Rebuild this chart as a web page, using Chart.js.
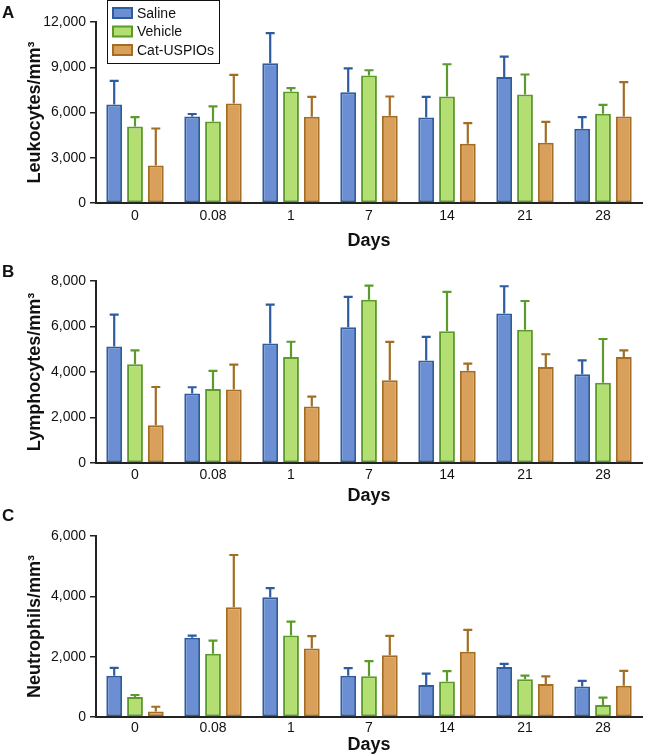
<!DOCTYPE html>
<html>
<head>
<meta charset="utf-8">
<script src="https://cdn.jsdelivr.net/npm/chart.js@4.4.1/dist/chart.umd.min.js"></script>
<style>
html, body { margin:0; padding:0; background:#fff; }
#wrap { position:relative; width:647px; height:756px; }
.panel { position:absolute; left:0; width:647px; }
.letter { position:absolute; left:2px; font:bold 17px "Liberation Sans", Arial, sans-serif; color:#111; line-height:1; }
</style>
</head>
<body>
<div id="wrap">
  <div class="panel" style="top:0;height:252px"><canvas id="chartA" width="647" height="252"></canvas></div>
  <div class="panel" style="top:252px;height:256px"><canvas id="chartB" width="647" height="256"></canvas></div>
  <div class="panel" style="top:508px;height:248px"><canvas id="chartC" width="647" height="248"></canvas></div>
  <div class="letter" style="top:4px">A</div>
  <div class="letter" style="top:263px">B</div>
  <div class="letter" style="top:507px">C</div>
</div>
<script>
// ── Data (mean and SD per day) ──
const days = ['0', '0.08', '1', '7', '14', '21', '28'];
const seriesNames = ['Saline', 'Vehicle', 'Cat-USPIOs'];

const leukoSaline    = [6530, 5740, 9270, 7350, 5670, 8360, 4920];
const leukoSalineSD  = [1570,  160, 1990, 1580, 1370, 1350,  770];
const leukoVehicle   = [5070, 5400, 7390, 8450, 7060, 7190, 5910];
const leukoVehicleSD = [ 620, 1000,  220,  350, 2140, 1330,  600];
const leukoCat       = [2490, 6600, 5710, 5780, 3930, 3990, 5740];
const leukoCatSD     = [2450, 1890, 1330, 1280, 1370, 1390, 2270];
const leukoTicks     = [0, 3000, 6000, 9000, 12000];

const lymphoSaline    = [5120, 3050, 5250, 5970, 4510, 6570, 3900];
const lymphoSalineSD  = [1400,  280, 1710, 1330, 1030, 1200,  610];
const lymphoVehicle   = [4340, 3250, 4660, 7180, 5790, 5860, 3530];
const lymphoVehicleSD = [ 610,  800,  670,  620, 1730, 1260, 1920];
const lymphoCat       = [1660, 3230, 2480, 3640, 4050, 4220, 4660];
const lymphoCatSD     = [1680, 1090,  440, 1680,  320,  560,  290];
const lymphoTicks     = [0, 2000, 4000, 6000, 8000];

const neutroSaline    = [1370, 2630, 3970, 1370, 1060, 1660, 1010];
const neutroSalineSD  = [ 260,   70,  300,  250,  380,  100,  190];
const neutroVehicle   = [ 660, 2100, 2700, 1350, 1180, 1250,  400];
const neutroVehicleSD = [  70,  430,  460,  500,  340,  120,  240];
const neutroCat       = [ 180, 3640, 2270, 2050, 2160, 1090, 1040];
const neutroCatSD     = [ 160, 1730,  410,  640,  730,  260,  490];
const neutroTicks     = [0, 2000, 4000, 6000];

const FONT = '"Liberation Sans", Arial, sans-serif';
const fills   = ['#6b8fd2', '#b3de72', '#d9a05c'];
const borders = ['#2e5c9f', '#5c9a2c', '#a46d24'];

// ── Upward SD whiskers with caps ──
const errorBars = {
    id: 'errorBars',
    afterDatasetsDraw(chart) {
        const ctx = chart.ctx, y = chart.scales.y;
        chart.data.datasets.forEach((ds, i) => {
            const meta = chart.getDatasetMeta(i);
            ctx.save();
            ctx.strokeStyle = ds.borderColor; ctx.lineWidth = 2.2;
            meta.data.forEach((bar, j) => {
                const top = y.getPixelForValue(ds.data[j] + ds.sd[j]);
                ctx.beginPath();
                ctx.moveTo(bar.x, bar.y); ctx.lineTo(bar.x, top);
                ctx.moveTo(bar.x - 4.5, top); ctx.lineTo(bar.x + 4.5, top);
                ctx.stroke();
            });
            ctx.restore();
        });
    }
};

// ── Boxed legend, top left of panel A ──
const boxLegend = {
    id: 'boxLegend',
    afterDraw(chart) {
        const ctx = chart.ctx;
        ctx.save();
        ctx.fillStyle = '#fff'; ctx.fillRect(107.5, 0.5, 112, 63);
        ctx.strokeStyle = '#111'; ctx.lineWidth = 1;
        ctx.strokeRect(107.5, 0.5, 112, 63);
        ctx.font = '14px ' + FONT; ctx.textBaseline = 'middle'; ctx.textAlign = 'left';
        chart.data.datasets.forEach((ds, i) => {
            const cy = 13 + i * 18.5;
            ctx.fillStyle = ds.backgroundColor; ctx.fillRect(113, cy - 5, 19, 10);
            ctx.strokeStyle = ds.borderColor; ctx.lineWidth = 2; ctx.strokeRect(113, cy - 5, 19, 10);
            ctx.fillStyle = '#111'; ctx.fillText(ds.label, 137, cy + 1);
        });
        ctx.restore();
    }
};

function makeChart(id, series, sds, ticks, yTitle, opt) {
    const datasets = series.map((data, i) => ({
        label: seriesNames[i], data, sd: sds[i],
        backgroundColor: fills[i], borderColor: borders[i], borderWidth: 2,
        borderSkipped: false, categoryPercentage: 0.8, barPercentage: 0.76
    }));
    return new Chart(document.getElementById(id), {
        type: 'bar',
        data: { labels: days, datasets },
        plugins: opt.legend ? [errorBars, boxLegend] : [errorBars],
        options: {
            responsive: false, animation: false,
            layout: { padding: { top: opt.top, right: 5, left: 0, bottom: 0 } },
            plugins: { legend: { display: false }, tooltip: { enabled: false } },
            scales: {
                x: {
                    grid: { display: false, drawTicks: false },
                    border: { display: true, color: '#222', width: 2 },
                    ticks: { color: '#111', padding: opt.tickPad, font: { family: FONT, size: 14 } },
                    title: { display: true, text: 'Days', color: '#111', padding: { top: 0, bottom: opt.titlePad },
                             font: { family: FONT, size: 18, weight: 'bold' } },
                    afterFit: (s) => { s.height = opt.xHeight; }
                },
                y: {
                    min: ticks[0], max: ticks[ticks.length - 1],
                    afterBuildTicks: (s) => { s.ticks = ticks.map(v => ({ value: v })); },
                    grid: { drawOnChartArea: false, drawTicks: true, tickLength: 6, color: '#222', lineWidth: 1.5 },
                    border: { display: true, color: '#222', width: 2 },
                    ticks: { color: '#111', padding: 4, font: { family: FONT, size: 14 },
                             callback: (v) => v.toLocaleString('en-US') },
                    title: { display: true, text: yTitle, color: '#111', padding: { top: 24, bottom: 0 },
                             font: { family: FONT, size: 18, weight: 'bold' } },
                    afterFit: (s) => { s.width = 96; }
                }
            }
        }
    });
}

makeChart('chartA', [leukoSaline, leukoVehicle, leukoCat], [leukoSalineSD, leukoVehicleSD, leukoCatSD],
    leukoTicks, 'Leukocytes/mm³', { top: 22, xHeight: 49, tickPad: 5, titlePad: 0, legend: true });
makeChart('chartB', [lymphoSaline, lymphoVehicle, lymphoCat], [lymphoSalineSD, lymphoVehicleSD, lymphoCatSD],
    lymphoTicks, 'Lymphocytes/mm³', { top: 29, xHeight: 45, tickPad: 4, titlePad: 1 });
makeChart('chartC', [neutroSaline, neutroVehicle, neutroCat], [neutroSalineSD, neutroVehicleSD, neutroCatSD],
    neutroTicks, 'Neutrophils/mm³', { top: 28, xHeight: 39, tickPad: 3, titlePad: 0 });
</script>
</body>
</html>
